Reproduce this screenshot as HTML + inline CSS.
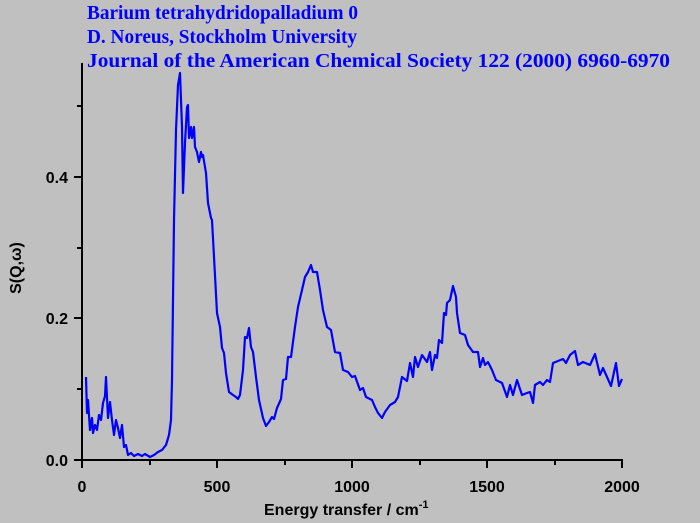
<!DOCTYPE html>
<html><head><meta charset="utf-8"><style>
html,body{margin:0;padding:0;background:#c0c0c0;}
svg{display:block}
.t{font-family:"Liberation Serif",serif;font-weight:bold;font-size:19.5px;fill:#0000ff}
.a{font-family:"Liberation Sans",sans-serif;font-weight:bold;font-size:16px;fill:#000}
</style></head><body>
<svg width="700" height="523" viewBox="0 0 700 523">
<rect width="700" height="523" fill="#c0c0c0"/>
<text class="t" x="87" y="19" textLength="271" lengthAdjust="spacingAndGlyphs">Barium tetrahydridopalladium 0</text>
<text class="t" x="87" y="43" textLength="270" lengthAdjust="spacingAndGlyphs">D. Noreus, Stockholm University</text>
<text class="t" x="87" y="67" textLength="583" lengthAdjust="spacingAndGlyphs">Journal of the American Chemical Society 122 (2000) 6960-6970</text>
<g stroke="#000" stroke-width="2" fill="none">
<line x1="82" y1="63" x2="82" y2="461"/>
<line x1="81" y1="460" x2="623" y2="460"/>
<line x1="74" y1="460" x2="82" y2="460"/><line x1="74" y1="318" x2="82" y2="318"/><line x1="74" y1="177" x2="82" y2="177"/>
<line x1="77" y1="389" x2="82" y2="389"/><line x1="77" y1="248" x2="82" y2="248"/><line x1="77" y1="106" x2="82" y2="106"/>
<line x1="82" y1="460" x2="82" y2="468"/><line x1="217" y1="460" x2="217" y2="468"/><line x1="352" y1="460" x2="352" y2="468"/><line x1="487" y1="460" x2="487" y2="468"/><line x1="622" y1="460" x2="622" y2="468"/>
<line x1="150" y1="460" x2="150" y2="465"/><line x1="285" y1="460" x2="285" y2="465"/><line x1="420" y1="460" x2="420" y2="465"/><line x1="555" y1="460" x2="555" y2="465"/>
</g>
<text class="a" x="68" y="466" text-anchor="end">0.0</text>
<text class="a" x="68" y="324" text-anchor="end">0.2</text>
<text class="a" x="68" y="183" text-anchor="end">0.4</text>
<text class="a" x="82" y="492" text-anchor="middle">0</text>
<text class="a" x="217" y="492" text-anchor="middle">500</text>
<text class="a" x="352" y="492" text-anchor="middle">1000</text>
<text class="a" x="487" y="492" text-anchor="middle">1500</text>
<text class="a" x="622" y="492" text-anchor="middle">2000</text>
<text class="a" x="264" y="515">Energy transfer / cm<tspan font-size="11" dy="-7">-1</tspan></text>
<text class="a" transform="translate(21,268) rotate(-90)" text-anchor="middle">S(Q,ω)</text>
<polyline fill="none" stroke="#0000ff" stroke-width="2.2" stroke-linejoin="round" points="86,377 87,413 88,400 90,430 92,418 93,433 95,425 97,430 99,415 101,420 103,403 105,396 106,377 108,418 110,402 112,420 114,435 116,420 118,428 120,438 122,425 124,447 126,445 128,455 131,453 134,456 138,454 142,456 145,454 150,457 154,455 158,452 162,450 166,445 169,435 171,420 172,380 173,300 174,220 176,130 178,85 180,73 182,127 183,193 185,143 187,107 188,105 189,138 191,127 192,138 194,127 195,147 197,152 199,162 201,152 202,157 203,155 206,173 208,203 211,218 212,220 214,257 217,313 220,327 222,348 224,353 226,373 229,392 233,395 236,397 238,399 240,395 243,370 245,337 247,338 249,328 251,347 253,352 256,377 259,400 263,418 266,426 269,422 272,417 274,419 277,408 281,399 283,380 286,379 288,357 291,357 295,327 298,307 302,290 305,277 308,272 311,265 313,272 317,272 320,290 323,310 327,327 331,330 335,352 340,353 343,370 348,372 352,377 355,376 360,390 363,388 366,397 370,399 372,400 375,407 378,413 382,418 385,412 390,405 395,402 398,397 402,377 407,381 410,363 413,377 415,357 418,367 422,355 427,362 430,352 432,370 435,355 437,358 439,340 442,343 444,313 446,315 447,303 450,300 453,286 456,297 457,313 460,333 465,335 468,345 473,352 478,352 480,367 483,358 485,365 488,362 492,370 496,380 502,383 507,397 510,385 513,395 517,380 522,395 527,393 530,392 533,403 535,385 540,382 543,385 547,380 550,382 553,363 563,359 566,363 570,355 575,351 578,365 583,362 590,365 595,354 600,375 603,368 611,386 616,363 619,386 622,379"/>
</svg>
</body></html>
